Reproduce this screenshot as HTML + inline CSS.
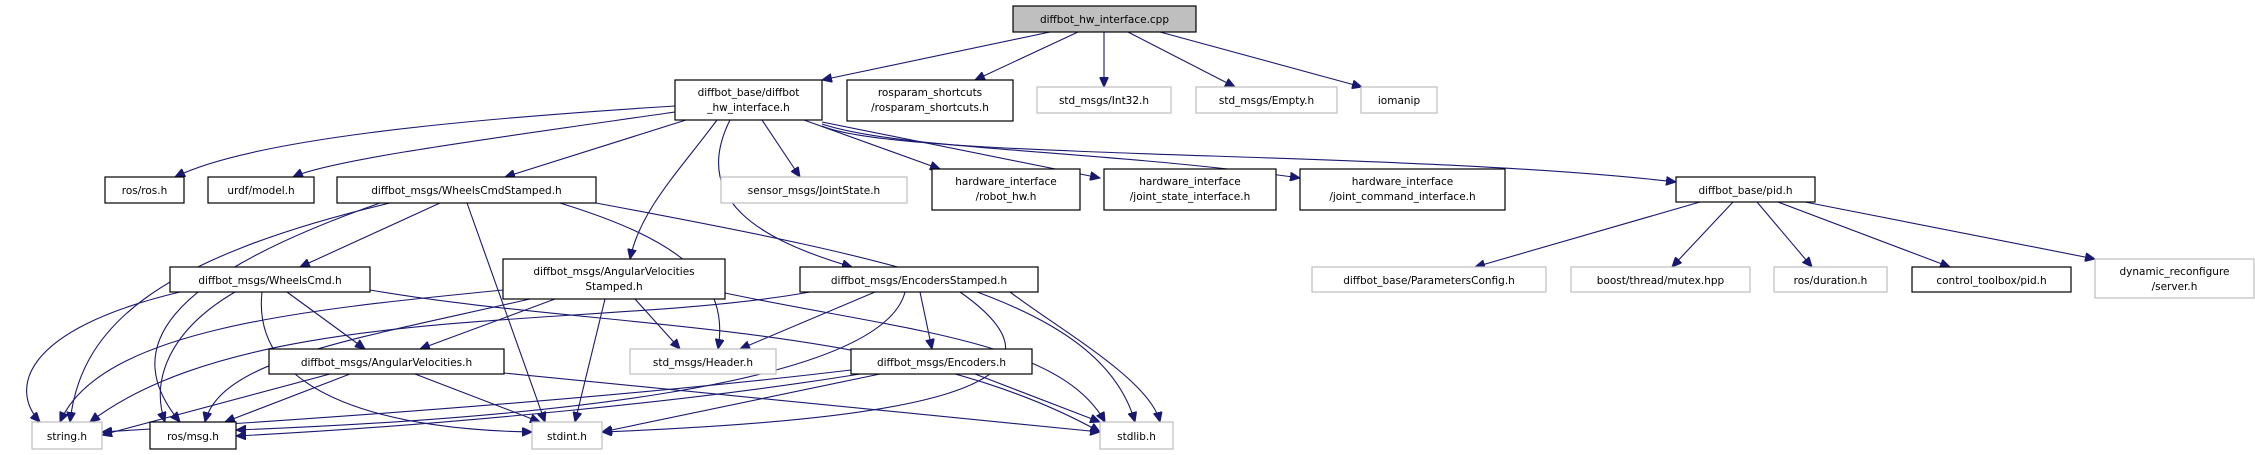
<!DOCTYPE html>
<html><head><meta charset="utf-8"><style>
html,body{margin:0;padding:0;background:#fff;}
svg{display:block;}
text{font-family:"DejaVu Sans","Liberation Sans",sans-serif;font-size:10.5px;fill:#000;text-anchor:middle;}
.b{fill:#fff;stroke:#000;stroke-width:1.2;}
.g{fill:#fff;stroke:#bfbfbf;stroke-width:1.2;}
.t{fill:#bfbfbf;stroke:#000;stroke-width:1.2;}
path{fill:none;stroke:#191970;stroke-width:1.1;}
</style></head><body>
<svg width="2255" height="455" viewBox="0 0 2255 455" xmlns="http://www.w3.org/2000/svg">
<defs><marker id="a" markerUnits="userSpaceOnUse" markerWidth="11" markerHeight="9" refX="10" refY="4.5" orient="auto"><path d="M0,0 L10,4.5 L0,9 Z" style="fill:#191970;stroke:#191970;stroke-width:1"/></marker></defs>
<g marker-end="url(#a)">
<path d="M1050,32 L822,80"/>
<path d="M1078,32 L975,80"/>
<path d="M1104,32 L1104,87"/>
<path d="M1128,32 L1235,87"/>
<path d="M1160,32 L1362,87"/>
<path d="M675,106 C450,120 250,140 175,177"/>
<path d="M675,112 C480,140 330,160 293,177"/>
<path d="M686,120 L505,177"/>
<path d="M717,120 C680,170 640,210 630,259"/>
<path d="M730,120 C690,200 760,240 852,267"/>
<path d="M762,120 L800,177"/>
<path d="M804,120 L940,169"/>
<path d="M822,122 L1100,178"/>
<path d="M822,124 C900,150 1100,150 1300,178"/>
<path d="M822,126 C900,160 1400,150 1676,182"/>
<path d="M390,203 C150,260 80,330 70,422"/>
<path d="M380,203 C160,280 120,350 180,422"/>
<path d="M440,203 L300,267"/>
<path d="M467,203 L545,422"/>
<path d="M560,203 C680,240 730,280 718,349"/>
<path d="M596,203 C900,260 1100,300 1135,422"/>
<path d="M180,292 C20,330 10,390 40,422"/>
<path d="M235,292 C170,330 150,380 165,422"/>
<path d="M287,292 L365,349"/>
<path d="M262,292 C250,400 400,430 532,432"/>
<path d="M370,290 C600,330 900,320 1100,432"/>
<path d="M503,290 C300,310 100,330 60,422"/>
<path d="M530,299 C350,340 220,360 205,422"/>
<path d="M555,299 L420,349"/>
<path d="M605,299 L575,422"/>
<path d="M635,299 L680,349"/>
<path d="M725,293 C900,330 1060,340 1105,422"/>
<path d="M810,292 C600,330 250,300 90,422"/>
<path d="M905,292 C880,390 500,420 236,430"/>
<path d="M875,292 L740,349"/>
<path d="M920,292 L932,349"/>
<path d="M960,292 C1100,390 900,420 602,432"/>
<path d="M1010,292 C1060,330 1150,380 1160,422"/>
<path d="M330,374 L102,435"/>
<path d="M350,374 L225,422"/>
<path d="M415,374 L540,422"/>
<path d="M504,373 L1100,432"/>
<path d="M851,370 C600,400 300,420 102,432"/>
<path d="M860,374 C700,400 450,425 236,436"/>
<path d="M880,374 L602,432"/>
<path d="M975,374 L1100,422"/>
<path d="M1700,202 L1475,267"/>
<path d="M1733,202 L1672,267"/>
<path d="M1757,202 L1812,267"/>
<path d="M1778,202 L1950,267"/>
<path d="M1805,202 L2095,259"/>
</g>
<rect class="t" x="1013" y="6" width="183" height="26"/><text x="1104.5" y="23">diffbot_hw_interface.cpp</text>
<rect class="b" x="675" y="80" width="147" height="40"/><text x="748.5" y="96">diffbot_base/diffbot</text><text x="748.5" y="111">_hw_interface.h</text>
<rect class="b" x="847" y="80" width="166" height="41"/><text x="930" y="96">rosparam_shortcuts</text><text x="930" y="111">/rosparam_shortcuts.h</text>
<rect class="g" x="1037" y="87" width="134" height="26"/><text x="1104" y="104">std_msgs/Int32.h</text>
<rect class="g" x="1196" y="87" width="141" height="26"/><text x="1266.5" y="104">std_msgs/Empty.h</text>
<rect class="g" x="1361" y="87" width="76" height="26"/><text x="1399" y="104">iomanip</text>
<rect class="b" x="105" y="177" width="79" height="26"/><text x="144.5" y="194">ros/ros.h</text>
<rect class="b" x="208" y="177" width="106" height="26"/><text x="261" y="194">urdf/model.h</text>
<rect class="b" x="337" y="177" width="259" height="26"/><text x="466.5" y="194">diffbot_msgs/WheelsCmdStamped.h</text>
<rect class="g" x="721" y="177" width="186" height="26"/><text x="814" y="194">sensor_msgs/JointState.h</text>
<rect class="b" x="932" y="169" width="148" height="41"/><text x="1006" y="185">hardware_interface</text><text x="1006" y="200">/robot_hw.h</text>
<rect class="b" x="1104" y="169" width="172" height="41"/><text x="1190" y="185">hardware_interface</text><text x="1190" y="200">/joint_state_interface.h</text>
<rect class="b" x="1300" y="169" width="205" height="41"/><text x="1402.5" y="185">hardware_interface</text><text x="1402.5" y="200">/joint_command_interface.h</text>
<rect class="b" x="1676" y="177" width="139" height="25"/><text x="1745.5" y="194">diffbot_base/pid.h</text>
<rect class="g" x="1312" y="267" width="234" height="25"/><text x="1429" y="284">diffbot_base/ParametersConfig.h</text>
<rect class="g" x="1571" y="267" width="179" height="25"/><text x="1660.5" y="284">boost/thread/mutex.hpp</text>
<rect class="g" x="1774" y="267" width="113" height="25"/><text x="1830.5" y="284">ros/duration.h</text>
<rect class="b" x="1912" y="267" width="159" height="25"/><text x="1991.5" y="284">control_toolbox/pid.h</text>
<rect class="g" x="2095" y="259" width="159" height="39"/><text x="2174.5" y="275">dynamic_reconfigure</text><text x="2174.5" y="290">/server.h</text>
<rect class="b" x="170" y="267" width="200" height="25"/><text x="270" y="284">diffbot_msgs/WheelsCmd.h</text>
<rect class="b" x="503" y="259" width="222" height="40"/><text x="614" y="275">diffbot_msgs/AngularVelocities</text><text x="614" y="290">Stamped.h</text>
<rect class="b" x="800" y="267" width="238" height="25"/><text x="919" y="284">diffbot_msgs/EncodersStamped.h</text>
<rect class="b" x="269" y="349" width="235" height="25"/><text x="386.5" y="366">diffbot_msgs/AngularVelocities.h</text>
<rect class="g" x="630" y="349" width="146" height="25"/><text x="703" y="366">std_msgs/Header.h</text>
<rect class="b" x="851" y="349" width="181" height="25"/><text x="941.5" y="366">diffbot_msgs/Encoders.h</text>
<rect class="g" x="32" y="422" width="70" height="27"/><text x="67" y="440">string.h</text>
<rect class="b" x="150" y="422" width="86" height="27"/><text x="193" y="440">ros/msg.h</text>
<rect class="g" x="532" y="422" width="70" height="27"/><text x="567" y="440">stdint.h</text>
<rect class="g" x="1100" y="422" width="73" height="27"/><text x="1136.5" y="440">stdlib.h</text>
</svg>
</body></html>
